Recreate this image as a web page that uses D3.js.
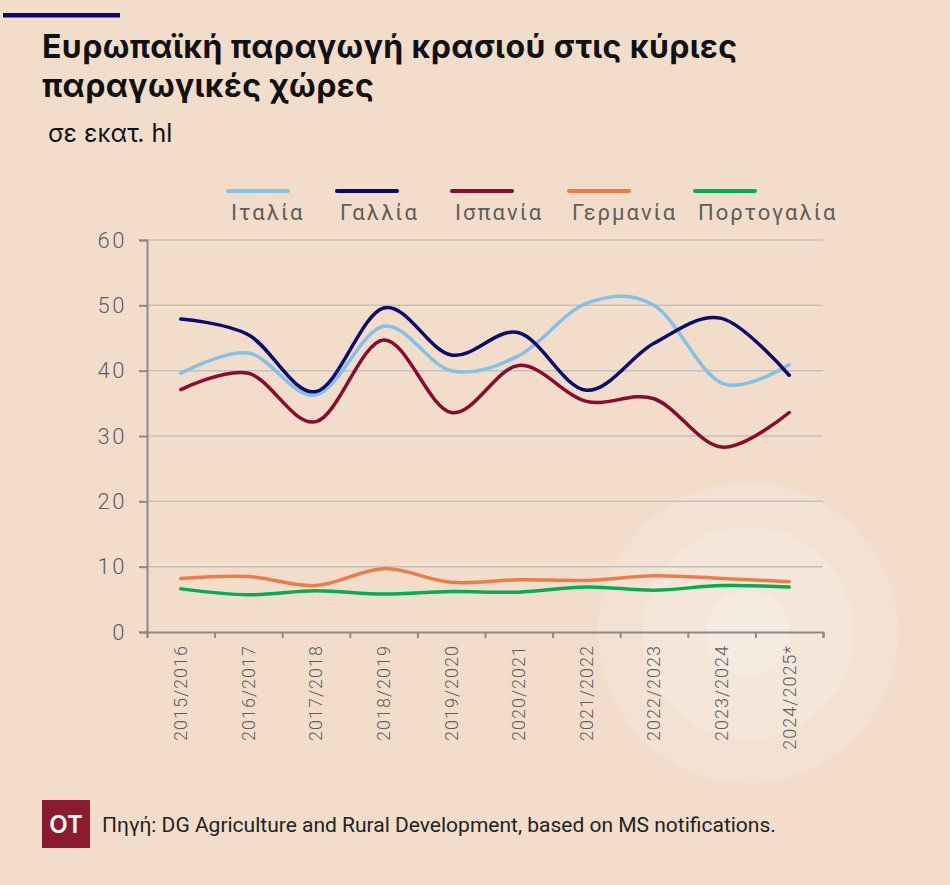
<!DOCTYPE html>
<html><head><meta charset="utf-8">
<script src="https://cdn.jsdelivr.net/npm/d3@7"></script>
<style>
html,body{margin:0;padding:0;background:#f2ddcb;}
svg{display:block;}
</style></head>
<body>
<svg id="chart" width="950" height="885"></svg>
<script>
const seasons = ["2015/2016","2016/2017","2017/2018","2018/2019","2019/2020","2020/2021","2021/2022","2022/2023","2023/2024","2024/2025*"];
const seriesNames = ["Ιταλία","Γαλλία","Ισπανία","Γερμανία","Πορτογαλία"];
const italy    = [39.6, 42.7, 36.3, 46.8, 40.0, 42.3, 50.3, 50.0, 38.1, 40.9];
const france   = [47.9, 45.5, 36.8, 49.6, 42.4, 45.8, 37.0, 44.2, 48.0, 39.3];
const spain    = [37.1, 39.6, 32.2, 44.7, 33.6, 40.8, 35.3, 35.7, 28.3, 33.6];
const germany  = [8.2, 8.5, 7.1, 9.7, 7.6, 8.0, 7.9, 8.6, 8.2, 7.7];
const portugal = [6.6, 5.7, 6.3, 5.8, 6.2, 6.1, 6.9, 6.4, 7.1, 6.9];
const yTicks = [0, 10, 20, 30, 40, 50, 60];
const colors = ["#85c1e6", "#0b0b6e", "#8a0a30", "#ec7d4b", "#00b050"];

(function(){
const svg = d3.select("#chart");
const W = 950, H = 885;

svg.append("rect").attr("width", W).attr("height", H).attr("fill", "#f2ddcb");
const deco = [[150, "#f3e2d3"], [106, "#f4e6d9"], [42, "#f6ebe1"]];
deco.forEach(([r, c]) => svg.append("circle").attr("cx", 748).attr("cy", 633).attr("r", r).attr("fill", c));

svg.append("rect").attr("x", 3).attr("y", 13).attr("width", 117).attr("height", 4.5).attr("fill", "#0b0b6e");

const title = svg.append("text").attr("x", 42).attr("font-family", "Inter, 'Noto Sans', sans-serif")
  .attr("font-weight", 700).attr("font-size", 32).attr("letter-spacing", "0.4px").attr("fill", "#111");
title.append("tspan").attr("x", 42).attr("y", 58).text("Ευρωπαϊκή παραγωγή κρασιού στις κύριες");
title.append("tspan").attr("x", 42).attr("y", 97).text("παραγωγικές χώρες");
svg.append("text").attr("x", 48).attr("y", 142).attr("font-family", "Inter, 'Noto Sans', sans-serif")
  .attr("font-size", 25).attr("fill", "#111").text("σε εκατ. hl");

const pl = 147, pr = 823, pt = 240, pb = 632;
const x = d3.scaleBand().domain(seasons).range([pl, pr]);
const xb = d3.scaleLinear().domain([0, seasons.length]).range([pl, pr]);
const y = d3.scaleLinear().domain([0, 60]).range([pb, pt]);

svg.append("g").selectAll("line").data(yTicks.filter(d => d > 0)).join("line")
  .attr("x1", pl).attr("x2", pr).attr("y1", d => y(d)).attr("y2", d => y(d))
  .attr("stroke", "#c4c0bb").attr("stroke-width", 1.5);

const axisColor = "#8a8a8a";
const labelColor = "#5e5e5e";
const gy = svg.append("g").attr("transform", `translate(${pl},0)`)
  .call(d3.axisLeft(y).tickValues(yTicks).tickSize(8).tickPadding(12));
gy.select(".domain").attr("stroke", axisColor).attr("stroke-width", 2);
gy.selectAll(".tick line").attr("stroke", axisColor).attr("stroke-width", 2);
gy.selectAll(".tick text").attr("fill", labelColor).attr("font-family", "Roboto, sans-serif")
  .attr("font-size", 22).attr("letter-spacing", "2.5px").attr("font-weight", 300);

const gxt = svg.append("g").attr("transform", `translate(0,${pb})`)
  .call(d3.axisBottom(xb).tickValues(d3.range(seasons.length + 1)).tickSize(6).tickFormat(""));
gxt.select(".domain").attr("stroke", axisColor).attr("stroke-width", 2);
gxt.selectAll(".tick line").attr("stroke", axisColor).attr("stroke-width", 2);
const gx = svg.append("g").attr("transform", `translate(0,${pb})`)
  .call(d3.axisBottom(x).tickSize(0));
gx.select(".domain").remove();
gx.selectAll(".tick text")
  .attr("transform", "rotate(-90)")
  .attr("x", -13).attr("y", 0).attr("dy", "0.35em")
  .attr("text-anchor", "end")
  .attr("fill", labelColor).attr("font-family", "Roboto, sans-serif")
  .attr("font-size", 18).attr("letter-spacing", "1px").attr("font-weight", 300);

const allSeries = [italy, france, spain, germany, portugal];
const line = d3.line().x((d, i) => x(seasons[i]) + x.bandwidth() / 2).y(d => y(d)).curve(d3.curveCardinal);
const drawOrder = [4, 3, 2, 0, 1];
drawOrder.forEach(k => {
  svg.append("path").datum(allSeries[k]).attr("d", line)
    .attr("fill", "none").attr("stroke", colors[k]).attr("stroke-width", 3.5)
    .attr("stroke-linecap", "round").attr("stroke-linejoin", "round");
});

const legendX = [228, 337, 452, 569, 695];
const lg = svg.append("g");
seriesNames.forEach((n, i) => {
  lg.append("line").attr("x1", legendX[i]).attr("x2", legendX[i] + 60).attr("y1", 191).attr("y2", 191)
    .attr("stroke", colors[i]).attr("stroke-width", 4).attr("stroke-linecap", "round");
  lg.append("text").attr("x", legendX[i] + 3).attr("y", 220).attr("text-anchor", "start")
    .attr("font-family", "Roboto, sans-serif").attr("font-size", 22).attr("letter-spacing", "2px")
    .attr("fill", labelColor).text(n);
});

svg.append("rect").attr("x", 42).attr("y", 800).attr("width", 48).attr("height", 48).attr("fill", "#8c1b32");
svg.append("text").attr("x", 66).attr("y", 833).attr("text-anchor", "middle").attr("fill", "#fff")
  .attr("font-family", "Inter, 'Noto Sans', sans-serif").attr("font-weight", 600).attr("font-size", 24).text("OT");
svg.append("text").attr("x", 102).attr("y", 832).attr("fill", "#222")
  .attr("font-family", "Roboto, sans-serif").attr("font-size", 21)
  .text("Πηγή: DG Agriculture and Rural Development, based on MS notifications.");
})();
</script>
</body></html>
